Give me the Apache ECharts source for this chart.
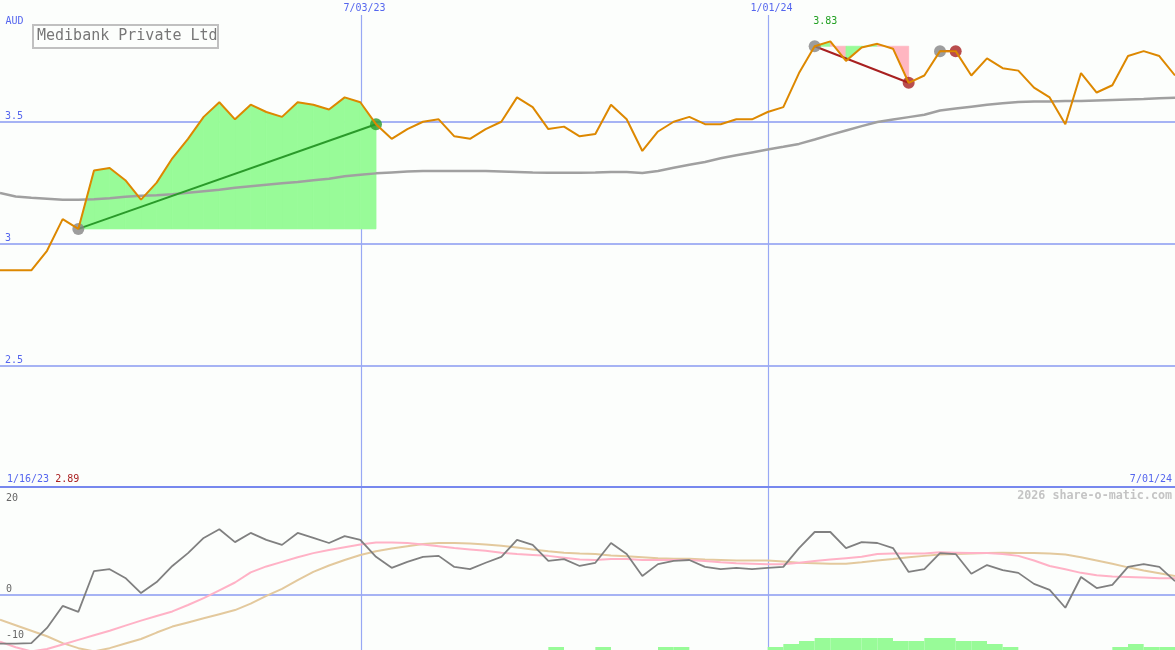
<!DOCTYPE html>
<html><head><meta charset="utf-8">
<script src="https://cdn.jsdelivr.net/npm/echarts@6/dist/echarts.min.js"></script>
<style>html,body{margin:0;padding:0;background:#fcfefc;}#c{width:1175px;height:650px;}</style>
</head><body><div id="c"></div>
<script>
// ---- data (weekly points, index 0 .. 75) ----
const title = 'Medibank Private Ltd';
const currency = 'AUD';
const startDate = '1/16/23';
const endDate = '7/01/24';
const markerIdx = [23, 49];
const markerLabels = ['7/03/23', '1/01/24'];
const priceTicks = [2.5, 3, 3.5];
const oscTicks = [20, 0, -10];
const watermark = '2026 share-o-matic.com';

const price = [2.89,2.89,2.89,2.97,3.10,3.06,3.30,3.31,3.26,3.18,
 3.25,3.35,3.43,3.52,3.58,3.51,3.57,3.54,3.52,3.58,
 3.57,3.55,3.60,3.58,3.49,3.43,3.47,3.50,3.51,3.44,
 3.43,3.47,3.50,3.60,3.56,3.47,3.48,3.44,3.45,3.57,
 3.51,3.38,3.46,3.50,3.52,3.49,3.49,3.51,3.51,3.54,
 3.56,3.70,3.81,3.83,3.75,3.805,3.82,3.80,3.66,3.69,
 3.79,3.79,3.69,3.76,3.72,3.71,3.64,3.60,3.49,3.70,
 3.62,3.65,3.77,3.79,3.77,3.69];

const priceMA = [3.207,3.193,3.188,3.184,3.180,3.180,3.182,3.186,3.192,3.196,
 3.198,3.202,3.208,3.215,3.221,3.229,3.235,3.241,3.247,3.253,
 3.260,3.266,3.276,3.282,3.288,3.292,3.296,3.298,3.298,3.298,
 3.298,3.298,3.296,3.294,3.292,3.291,3.291,3.291,3.292,3.294,
 3.294,3.290,3.298,3.311,3.323,3.335,3.350,3.362,3.374,3.386,
 3.397,3.409,3.427,3.446,3.464,3.482,3.499,3.509,3.519,3.529,
 3.546,3.554,3.562,3.570,3.576,3.581,3.583,3.583,3.585,3.585,
 3.587,3.589,3.591,3.593,3.597,3.599];

const osc = [-10.6,-10.6,-10.5,-7.2,-2.4,-3.7,5.2,5.6,3.7,0.4,
 2.8,6.3,9.1,12.4,14.3,11.5,13.5,12.0,10.9,13.5,
 12.4,11.3,12.8,12.0,8.3,5.9,7.2,8.3,8.5,6.1,
 5.6,7.0,8.3,12.0,10.9,7.4,7.8,6.3,7.0,11.3,
 8.9,4.1,6.7,7.4,7.6,6.1,5.6,5.9,5.6,5.9,
 6.1,10.2,13.7,13.7,10.2,11.5,11.3,10.2,5.0,5.6,
 9.1,8.9,4.6,6.5,5.4,4.8,2.4,1.1,-2.8,3.9,
 1.5,2.2,6.1,6.7,6.1,3.0];

const oscPink = [-10.2,-11.4,-12.3,-11.8,-10.8,-9.8,-8.8,-7.8,-6.7,-5.6,
 -4.6,-3.6,-2.2,-0.7,1.0,2.7,4.9,6.2,7.2,8.2,
 9.1,9.8,10.4,11.0,11.4,11.4,11.3,11.0,10.6,10.2,
 9.9,9.6,9.2,8.9,8.7,8.5,8.1,7.7,7.6,7.8,
 7.8,7.6,7.6,7.6,7.6,7.4,7.1,6.9,6.8,6.7,
 6.7,7.0,7.4,7.7,8.0,8.3,8.9,9.0,9.0,9.0,
 9.3,9.2,9.1,9.1,8.9,8.5,7.5,6.3,5.6,4.8,
 4.3,4.0,3.9,3.8,3.6,3.6];

const oscTan = [-5.4,-6.6,-7.8,-9.0,-10.5,-11.6,-12.3,-11.6,-10.6,-9.6,
 -8.2,-6.9,-6.0,-5.1,-4.2,-3.3,-1.9,-0.2,1.3,3.2,
 5.0,6.4,7.6,8.7,9.5,10.1,10.6,11.1,11.3,11.3,
 11.2,11.0,10.7,10.3,9.9,9.5,9.2,9.0,8.9,8.6,
 8.4,8.2,8.0,7.9,7.9,7.7,7.6,7.5,7.5,7.5,
 7.3,7.0,6.9,6.8,6.8,7.1,7.5,7.8,8.2,8.5,
 8.8,8.9,9.0,9.1,9.2,9.1,9.1,9.0,8.8,8.2,
 7.5,6.8,6.0,5.3,4.7,4.1];

// green bars at panel bottom: [startIndex, level]
const bars = [[35,1],[38,1],[42,1],[43,1],[49,1],[50,2],[51,3],[52,4],[53,4],[54,4],
 [55,4],[56,4],[57,3],[58,3],[59,4],[60,4],[61,3],[62,3],[63,2],[64,1],
 [71,1],[72,2],[73,1],[74,1]];

// trades: entry index, exit index
const tradeWin = [5, 24];
const tradeLoss = [52, 58];
const tradeFlat = [60, 61];

// ---- chart ----
const N = price.length;
const MONO = "'DejaVu Sans Mono', monospace";
const BLUE = '#5566ee';
const GRIDBLUE = '#a6b3f4';
const VBLUE = '#98a8f4';
const BG = '#fcfefc';
const pairs = arr => arr.map((v, i) => [i, v]);
const pt = i => [i, price[i]];

const fillData = [];
for (let i = tradeWin[0]; i < tradeWin[1]; i++) fillData.push([i, price[i], price[i+1], price[tradeWin[0]], 1]);
for (let i = tradeLoss[0]; i < tradeLoss[1]; i++) fillData.push([i, price[i], price[i+1], price[tradeLoss[0]], price[i+1] >= price[i] ? 1 : 0]);

const chart = echarts.init(document.getElementById('c'));
chart.setOption({
  animation: false,
  backgroundColor: BG,
  grid: [
    {left: 0, right: 0, top: 0, height: 487, outerBoundsMode: 'none'},
    {left: 0, right: 0, top: 487, height: 163, outerBoundsMode: 'none'}
  ],
  xAxis: [
    {type: 'value', gridIndex: 0, min: 0, max: N - 1, position: 'bottom',
     axisLine: {show: true, onZero: false, lineStyle: {color: '#7788ee', width: 2}},
     axisTick: {show: false}, splitLine: {show: false},
     axisLabel: {show: true, inside: true, customValues: [0, N - 1], margin: 3,
       alignMinLabel: 'left', alignMaxLabel: 'right', padding: [0, 3, 0, 7],
       fontFamily: MONO, fontSize: 10, color: BLUE,
       formatter: v => v === 0 ? '{d|' + startDate + '} {r|' + price[0].toFixed(2) + '}' : '{d|' + endDate + '}',
       rich: {d: {color: BLUE, fontFamily: MONO, fontSize: 10}, r: {color: '#aa2222', fontFamily: MONO, fontSize: 10}}}},
    {type: 'value', gridIndex: 1, min: 0, max: N - 1, show: false}
  ],
  yAxis: [
    {type: 'value', gridIndex: 0, min: 2, max: 4,
     axisLine: {show: false}, axisTick: {show: false, customValues: priceTicks},
     splitLine: {show: true, lineStyle: {color: GRIDBLUE, width: 2}},
     axisLabel: {inside: true, customValues: priceTicks, verticalAlign: 'bottom', margin: 5,
       color: BLUE, fontFamily: MONO, fontSize: 10, formatter: v => String(v)}},
    {type: 'value', gridIndex: 1, min: -12, max: 23.5,
     axisLine: {show: false}, axisTick: {show: false, customValues: [0]},
     splitLine: {show: true, lineStyle: {color: GRIDBLUE, width: 2}},
     axisLabel: {inside: true, customValues: oscTicks, verticalAlign: 'bottom', margin: 6,
       color: '#666', fontFamily: MONO, fontSize: 10, formatter: v => String(v)}},
    {type: 'value', gridIndex: 1, min: 0, max: 54.33, show: false}
  ],
  graphic: [
    {type: 'rect', shape: {x: 33, y: 25, width: 185, height: 23}, style: {fill: BG, stroke: '#c0c0c0', lineWidth: 2}, z: 10},
    {type: 'text', x: 37, y: 36.5, style: {text: title, font: '15px ' + MONO, fill: '#777', verticalAlign: 'middle'}, z: 11},
    {type: 'text', x: 5.5, y: 21, style: {text: currency, font: '10px ' + MONO, fill: BLUE, verticalAlign: 'middle'}, z: 11},
    {type: 'text', x: 1172, y: 496, style: {text: watermark, font: 'bold 11.7px ' + MONO, fill: '#c4c4c4', align: 'right', verticalAlign: 'middle'}, z: 11}
  ],
  series: [
    // month markers, upper panel
    {type: 'custom', xAxisIndex: 0, yAxisIndex: 0, z: 0, silent: true, clip: false,
     data: markerIdx.map((v, k) => [v, k]), encode: {x: 0},
     renderItem: (params, api) => {
       const i = api.value(0), k = api.value(1);
       const top = api.coord([i, 4]), bot = api.coord([i, 2]);
       const x = Math.round(top[0] + 0.5) + 0.5;
       return {type: 'group', children: [
         {type: 'line', shape: {x1: x, y1: top[1] + 15, x2: x, y2: bot[1]}, style: {stroke: VBLUE, lineWidth: 1.2}},
         {type: 'text', x: x + 3, y: top[1] + 3, style: {text: markerLabels[k], fill: BLUE, font: '10px ' + MONO, align: 'center', verticalAlign: 'top'}}
       ]};
     }},
    // month markers, lower panel
    {type: 'custom', xAxisIndex: 1, yAxisIndex: 1, z: 0, silent: true,
     data: markerIdx.map((v, k) => [v, k]), encode: {x: 0},
     renderItem: (params, api) => {
       const i = api.value(0);
       const top = api.coord([i, 23.5]), bot = api.coord([i, -12]);
       const x = Math.round(top[0] + 0.5) + 0.5;
       return {type: 'line', shape: {x1: x, y1: top[1], x2: x, y2: bot[1]}, style: {stroke: VBLUE, lineWidth: 1.2}};
     }},
    // trade fills
    {type: 'custom', xAxisIndex: 0, yAxisIndex: 0, z: 1, silent: true,
     data: fillData, encode: {x: 0, y: [1, 2, 3]},
     renderItem: (params, api) => {
       const i = api.value(0), a = api.value(1), b = api.value(2), L = api.value(3), up = api.value(4);
       const c = up ? '#98fb98' : '#ffb6c1';
       return {type: 'polygon', shape: {points: [api.coord([i, L]), api.coord([i, a]), api.coord([i + 1, b]), api.coord([i + 1, L])]},
         style: {fill: c, stroke: c, lineWidth: 0.8}};
     }},
    {type: 'line', name: 'MA', xAxisIndex: 0, yAxisIndex: 0, z: 2, data: pairs(priceMA), symbol: 'none',
     lineStyle: {color: '#a0a0a0', width: 2.5}},
    {type: 'line', xAxisIndex: 0, yAxisIndex: 0, z: 3, data: [pt(tradeWin[0]), pt(tradeWin[1])], symbol: 'none',
     lineStyle: {color: '#2a9a2a', width: 2}},
    {type: 'line', xAxisIndex: 0, yAxisIndex: 0, z: 3, data: [pt(tradeLoss[0]), pt(tradeLoss[1])], symbol: 'none',
     lineStyle: {color: '#a82020', width: 2}},
    {type: 'line', xAxisIndex: 0, yAxisIndex: 0, z: 3, data: [pt(tradeFlat[0]), pt(tradeFlat[1])], symbol: 'none',
     lineStyle: {color: '#a82020', width: 2}},
    {type: 'scatter', xAxisIndex: 0, yAxisIndex: 0, z: 4, symbolSize: 12,
     data: [pt(tradeWin[0]), pt(tradeLoss[0]), pt(tradeFlat[0])], itemStyle: {color: '#858585'}},
    {type: 'scatter', xAxisIndex: 0, yAxisIndex: 0, z: 4, symbolSize: 12,
     data: [pt(tradeWin[1])], itemStyle: {color: '#2a9a2a'}},
    {type: 'scatter', xAxisIndex: 0, yAxisIndex: 0, z: 4, symbolSize: 12,
     data: [pt(tradeLoss[1]), pt(tradeFlat[1])], itemStyle: {color: '#a82020'}},
    {type: 'line', name: 'Price', xAxisIndex: 0, yAxisIndex: 0, z: 5, data: pairs(price), symbol: 'none',
     lineStyle: {color: '#dd8800', width: 2},
     markPoint: {symbol: 'circle', symbolSize: 1, itemStyle: {color: 'rgba(0,0,0,0)'},
       data: [{type: 'max'}],
       label: {show: true, position: 'top', distance: 14, offset: [-5, 0], color: '#22a022', fontFamily: MONO, fontSize: 10,
         formatter: p => Number(p.value).toFixed(2)}}},
    // lower panel
    {type: 'custom', xAxisIndex: 1, yAxisIndex: 2, z: 1, silent: true,
     data: bars, encode: {x: 0, y: 1},
     renderItem: (params, api) => {
       const i = api.value(0), h = api.value(1);
       const p0 = api.coord([i, 0]), p1 = api.coord([i + 1, h]);
       return {type: 'rect', shape: {x: p0[0], y: p1[1], width: p1[0] - p0[0], height: p0[1] - p1[1]}, style: {fill: '#98fb98'}};
     }},
    {type: 'line', xAxisIndex: 1, yAxisIndex: 1, z: 2, data: pairs(oscTan), symbol: 'none',
     lineStyle: {color: '#e3c99d', width: 2}},
    {type: 'line', xAxisIndex: 1, yAxisIndex: 1, z: 3, data: pairs(oscPink), symbol: 'none',
     lineStyle: {color: '#ffb2c6', width: 2}},
    {type: 'line', xAxisIndex: 1, yAxisIndex: 1, z: 4, data: pairs(osc), symbol: 'none',
     lineStyle: {color: '#808080', width: 1.8}}
  ]
});
</script></body></html>
